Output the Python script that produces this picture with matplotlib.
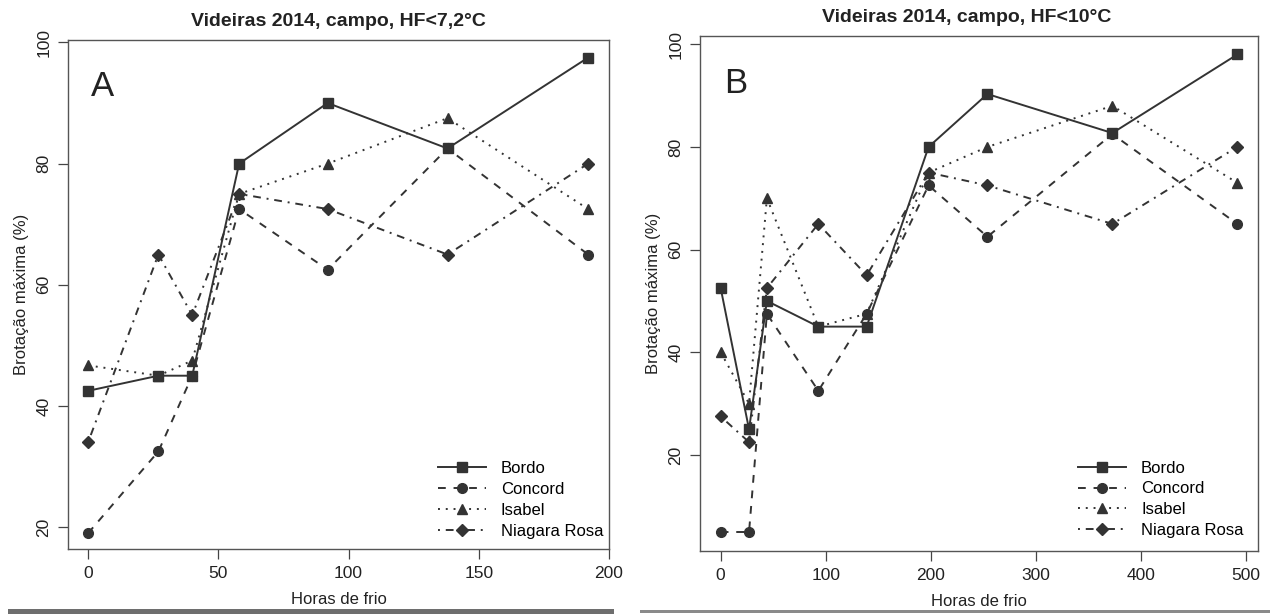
import numpy as np
import matplotlib
matplotlib.use('Agg')
import matplotlib.pyplot as plt
from matplotlib.patches import Rectangle

plt.rcParams['font.family'] = ['Liberation Sans', 'DejaVu Sans']

# ---- DATA ----
# Panel A: HF < 7,2 C
hf_a      = [0, 27, 40, 58, 92, 138, 192]
bordo_a   = [42.5, 45, 45, 80, 90, 82.5, 97.5]
concord_a = [19, 32.5, 45, 72.5, 62.5, 82.5, 65]
isabel_a  = [46.7, 45, 47.5, 75, 80, 87.5, 72.5]
niagara_a = [34, 65, 55, 75, 72.5, 65, 80]

# Panel B: HF < 10 C
hf_b      = [0, 27, 44, 93, 139, 198, 254, 373, 492]
bordo_b   = [52.5, 25, 50, 45, 45, 80, 90.3, 82.7, 98]
concord_b = [5, 5, 47.5, 32.5, 47.5, 72.5, 62.5, 82.5, 65]
isabel_b  = [40, 30, 70, 45, 47.5, 75, 80, 88, 73]
niagara_b = [27.5, 22.5, 52.5, 65, 55, 75, 72.5, 65, 80]

cultivares = ['Bordo', 'Concord', 'Isabel', 'Niagara Rosa']
titulos = ['Videiras 2014, campo, HF<7,2°C', 'Videiras 2014, campo, HF<10°C']
letras = ['A', 'B']
xticks_a = [0, 50, 100, 150, 200]
xticks_b = [0, 100, 200, 300, 400, 500]
yticks_a = [20, 40, 60, 80, 100]
yticks_b = [20, 40, 60, 80, 100]

# ---- STYLE ----
COR = '#333333'
estilos = [
    dict(marker='s', linestyle='-', markersize=7),
    dict(marker='o', dashes=(4, 4), markersize=7),
    dict(marker='^', dashes=(1, 3), markersize=7),
    dict(marker='D', dashes=(1, 3, 4, 3), markersize=6),
]

W, H = 1270, 614
fig = plt.figure(figsize=(W / 100, H / 100), dpi=100)


def eixo(l, r, t, b):
    return fig.add_axes([l / W, 1 - b / H, (r - l) / W, (b - t) / H])


def painel(ax, hf, series, xticks, yticks, xlim, ylim, titulo, tit_x, letra, leg_x, leg_y):
    for vals, nome, est in zip(series, cultivares, estilos):
        ax.plot(hf, vals, color=COR, lw=1.4, markerfacecolor=COR,
                markeredgecolor=COR, label=nome, **est)
    ax.set_xlim(*xlim)
    ax.set_ylim(*ylim)
    ax.set_xticks(xticks)
    ax.set_yticks(yticks)
    ax.tick_params(direction='out', length=7, width=0.9, color='#444444',
                   labelsize=12.5, labelcolor='#222222', pad=5)
    for lab in ax.get_yticklabels():
        lab.set_rotation(90)
        lab.set_va('center')
    for s in ax.spines.values():
        s.set_color('#555555')
        s.set_linewidth(1.0)
    ax.set_xlabel('Horas de frio', fontsize=12, color='#222222', labelpad=8)
    ax.set_ylabel('Brotação máxima (%)', fontsize=12, color='#222222', labelpad=5)
    ax.set_title(titulo, fontsize=14, fontweight='bold', color='#222222',
                 pad=10, x=tit_x)
    ax.text(0.043, 0.89, letra, transform=ax.transAxes, fontsize=25,
            color='#222222', va='baseline')
    ax.legend(loc='lower left', bbox_to_anchor=(leg_x, leg_y), frameon=False,
              fontsize=12, handlelength=2.9, handletextpad=0.9,
              labelspacing=0.35, borderpad=0, borderaxespad=0)


ax1 = eixo(68, 609, 40, 549)
painel(ax1, hf_a, [bordo_a, concord_a, isabel_a, niagara_a], xticks_a, yticks_a,
       (-7.7, 199.7), (16.4, 100.4), titulos[0], 0.5, letras[0], 0.683, 0.02)

ax2 = eixo(700, 1258, 36, 551)
painel(ax2, hf_b, [bordo_b, concord_b, isabel_b, niagara_b], xticks_b, yticks_b,
       (-19.7, 511.7), (1.3, 101.6), titulos[1], 0.478, letras[1], 0.677, 0.025)

# scanned page rules under each panel
fig.add_artist(Rectangle((8 / W, 0), 606 / W, 5 / H,
                         transform=fig.transFigure, color='#6e6e6e', lw=0))
fig.add_artist(Rectangle((640 / W, 1 / H), 630 / W, 3 / H,
                         transform=fig.transFigure, color='#8a8a8a', lw=0))

fig.savefig('out.png', dpi=100)
